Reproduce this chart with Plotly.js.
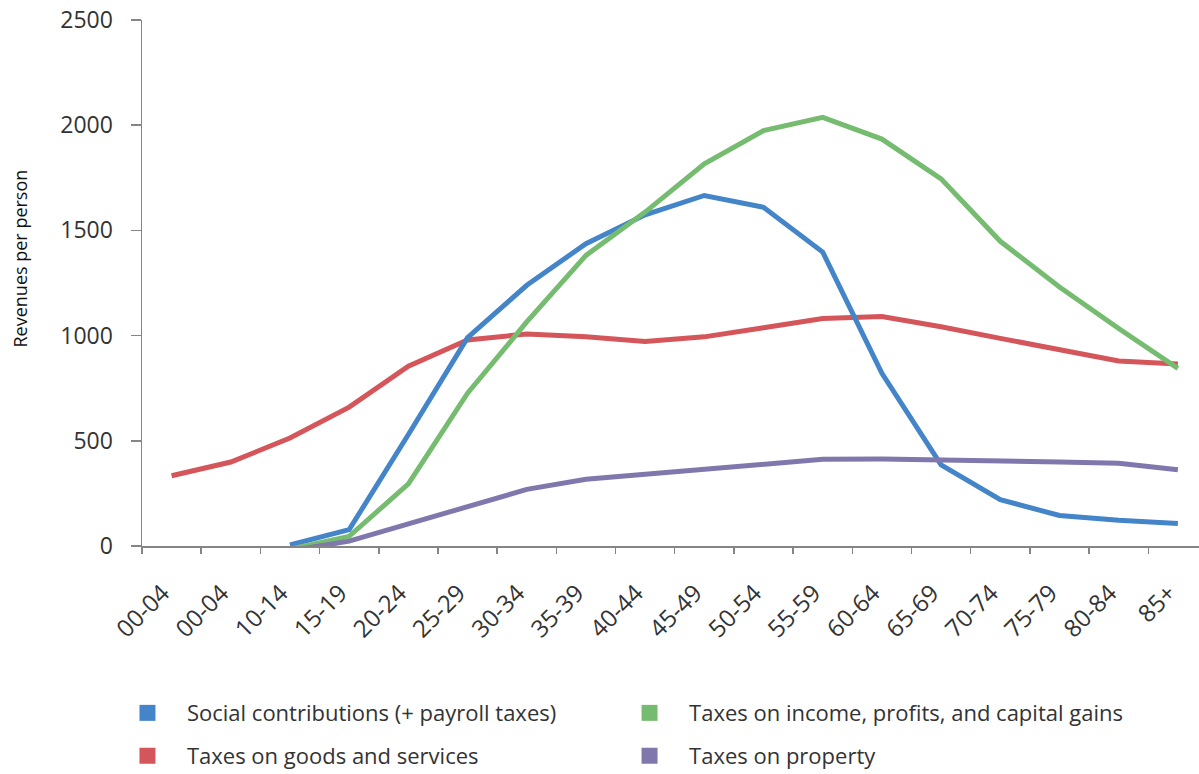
<!DOCTYPE html>
<html>
<head>
<meta charset="utf-8">
<script src="https://cdn.plot.ly/plotly-3.0.1.min.js"></script>
<style>html,body{margin:0;padding:0;background:#fff;}#chart{width:1199px;height:774px;}</style>
</head>
<body>
<div id="chart"></div>
<script>
const ageGroups = ["00-04","00-04","10-14","15-19","20-24","25-29","30-34","35-39","40-44","45-49","50-54","55-59","60-64","65-69","70-74","75-79","80-84","85+"];
const socialContributions = [null,null,5,78,530,990,1239,1437,1574,1666,1610,1397,821,386,220,145,122,107];
const goodsServices = [334,399,513,660,855,979,1008,994,972,994,1037,1081,1091,1042,987,931,879,865];
const incomeProfits = [null,null,-15,46,295,726,1065,1381,1587,1816,1974,2037,1934,1745,1448,1231,1034,844];
const propertyTaxes = [null,null,-22,23,105,187,269,317,341,364,389,412,413,410,405,399,393,362];

const seriesNames = ["Social contributions (+ payroll taxes)","Taxes on goods and services","Taxes on income, profits, and capital gains","Taxes on property"];
const seriesColors = ["#4485C9","#D4555A","#76BC70","#8077AD"];

const xPos = ageGroups.map((_, i) => i);
const values = [socialContributions, goodsServices, incomeProfits, propertyTaxes];
const drawOrder = [1, 0, 2, 3];

const FONT = '"Open Sans", "Noto Sans", sans-serif';
const TXT = '#333333';

const traces = [];
drawOrder.forEach(k => {
  traces.push({
    x: xPos, y: values[k], type: 'scatter', mode: 'lines',
    name: seriesNames[k], showlegend: false, connectgaps: false,
    line: {color: seriesColors[k], width: 5},
    hoverinfo: 'x+y'
  });
});
// one legend per entry (square swatches), placed in a 2x2 grid
const legendIds = ['legend', 'legend2', 'legend3', 'legend4'];
seriesNames.forEach((nm, k) => {
  traces.push({
    x: [null], y: [null], type: 'scatter', mode: 'markers',
    name: nm, showlegend: true, legend: legendIds[k],
    marker: {symbol: 'square', size: 18, color: seriesColors[k]}
  });
});

const legendCommon = {
  orientation: 'h', xanchor: 'left', yanchor: 'middle',
  itemwidth: 69, bgcolor: 'rgba(0,0,0,0)',
  font: {family: FONT, size: 22, color: TXT}
};
const colX = [-0.0322, 0.4428];
const rowY = [-0.3176, -0.399];

const layout = {
  width: 1199, height: 774, autosize: false,
  margin: {l: 142, r: 0, t: 20, b: 228, autoexpand: false},
  paper_bgcolor: '#ffffff', plot_bgcolor: '#ffffff',
  font: {family: FONT, color: TXT},
  showlegend: true,
  xaxis: {
    range: [-0.5, 17.357], tickmode: 'array', tickvals: xPos, ticktext: ageGroups,
    tickangle: -45, ticks: '', showgrid: false, zeroline: false,
    showline: true, linecolor: '#858585', linewidth: 1.5,
    tickfont: {family: FONT, size: 24, color: TXT},
    ticklabelstandoff: 22, ticklabelshift: -9,
    minor: {tickmode: 'linear', tick0: -0.5, dtick: 1, ticks: 'outside', ticklen: 6, tickcolor: '#858585', tickwidth: 1.5, showgrid: false},
    fixedrange: true
  },
  yaxis: {
    range: [0, 2500], tickmode: 'array', tickvals: [0,500,1000,1500,2000,2500],
    ticks: 'outside', ticklen: 10, tickcolor: '#858585', tickwidth: 1.5,
    showgrid: false, zeroline: false, showline: true, linecolor: '#858585', linewidth: 1.5,
    tickfont: {family: FONT, size: 23, color: TXT},
    ticklabelstandoff: 13,
    fixedrange: true
  },
  annotations: [{
    text: 'Revenues per person', xref: 'paper', yref: 'paper',
    x: -0.1154, y: 0.5466, xanchor: 'center', yanchor: 'middle',
    textangle: -90, showarrow: false,
    font: {family: FONT, size: 18, color: '#111'}
  }],
  legend:  Object.assign({}, legendCommon, {x: colX[0], y: rowY[0]}),
  legend2: Object.assign({}, legendCommon, {x: colX[0], y: rowY[1]}),
  legend3: Object.assign({}, legendCommon, {x: colX[1], y: rowY[0]}),
  legend4: Object.assign({}, legendCommon, {x: colX[1], y: rowY[1]})
};

Plotly.newPlot('chart', traces, layout, {displayModeBar: false, staticPlot: true});
</script>
</body>
</html>
